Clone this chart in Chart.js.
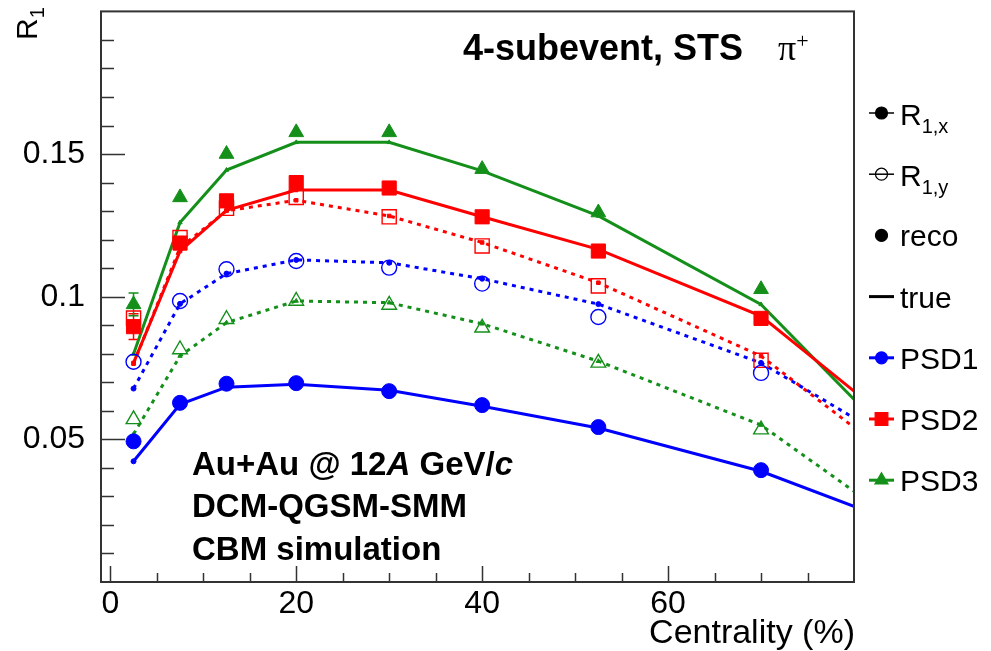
<!DOCTYPE html>
<html>
<head>
<meta charset="utf-8">
<script src="https://cdn.jsdelivr.net/npm/chart.js@4.4.1/dist/chart.umd.min.js"></script>
<style>
  html, body { margin: 0; padding: 0; background: #fff; }
  #wrap { width: 991px; height: 651px; }
</style>
</head>
<body>
<div id="wrap"><canvas id="c" width="991" height="651"></canvas></div>
<script>
// centrality bins (%)
const centrality = [2.5, 7.5, 12.5, 20, 30, 40, 52.5, 70];
const centralityTrue = [2.5, 7.5, 12.5, 20, 30, 40, 52.5, 70, 90];

// reconstructed R1 (markers)
const psd1RecoX = [0.0493, 0.0628, 0.0695, 0.0697, 0.0669, 0.0620, 0.0543, 0.0392];
const psd1RecoY = [0.0772, 0.0985, 0.1096, 0.1125, 0.1102, 0.1046, 0.0929, 0.0733];
const psd2RecoX = [0.0895, 0.1188, 0.1336, 0.1400, 0.1381, 0.1280, 0.1160, 0.0924];
const psd2RecoY = [0.0925, 0.1207, 0.1310, 0.1348, 0.1280, 0.1178, 0.1038, 0.0777];
const psd3RecoX = [0.0973, 0.1348, 0.1500, 0.1576, 0.1576, 0.1447, 0.1295, 0.1026];
const psd3RecoY = [0.0570, 0.0815, 0.0921, 0.0985, 0.0971, 0.0891, 0.0768, 0.0534];
// errors (only visible in the most central bin)
const psd2RecoXErr = [0.0045, 0, 0, 0, 0, 0, 0, 0];
const psd3RecoXErr = [0.0040, 0, 0, 0, 0, 0, 0, 0];

// true R1 (lines)
const psd1TrueX = [0.0423, 0.0623, 0.0683, 0.0693, 0.0672, 0.0616, 0.0540, 0.0388, 0.0142];
const psd1TrueY = [0.0678, 0.0975, 0.1081, 0.1129, 0.1119, 0.1063, 0.0974, 0.0768, 0.0382];
const psd2TrueX = [0.0768, 0.1160, 0.1303, 0.1374, 0.1374, 0.1280, 0.1166, 0.0932, 0.0406];
const psd2TrueY = [0.0765, 0.1172, 0.1301, 0.1338, 0.1283, 0.1190, 0.1049, 0.0792, 0.0292];
const psd3TrueX = [0.0799, 0.1260, 0.1444, 0.1541, 0.1541, 0.1441, 0.1283, 0.0973, 0.0307];
const psd3TrueY = [0.0518, 0.0792, 0.0909, 0.0985, 0.0979, 0.0905, 0.0774, 0.0550, 0.0086];

// axis labels
const xTickLabels = [0, 20, 40, 60];
const yTickLabels = [0.05, 0.1, 0.15];

const FONT = '"Liberation Sans", Arial, Helvetica, sans-serif';
const BLUE = '#0000ff', RED = '#ff0000', GREEN = '#14901a';

const pts = (xs, ys) => xs.map((x, i) => ({ x: x, y: ys[i] }));

const reco = (label, ys, color, style, r, filled) => ({
    label, data: pts(centrality, ys), showLine: false,
    pointStyle: style, pointRadius: r, pointHoverRadius: r,
    pointBackgroundColor: filled ? color : 'rgba(0,0,0,0)',
    pointBorderColor: color, pointBorderWidth: filled ? 1 : 1.4
});
const truth = (label, ys, color, style, dotted) => ({
    label, data: pts(centralityTrue, ys), showLine: true, tension: 0,
    borderColor: color, borderWidth: 3, borderDash: dotted ? [4, 5] : [],
    pointStyle: style, pointRadius: 2.5, pointHoverRadius: 2.5,
    pointBackgroundColor: color, pointBorderColor: color, pointBorderWidth: 1,
    clip: 0
});

// dataset 0 is drawn on top, so markers go first
const datasets = [
    reco('PSD1 R1x reco', psd1RecoX, BLUE, 'circle', 7.5, true),
    reco('PSD2 R1x reco', psd2RecoX, RED, 'rect', 10, true),
    reco('PSD3 R1x reco', psd3RecoX, GREEN, 'triangle', 8.5, true),
    reco('PSD1 R1y reco', psd1RecoY, BLUE, 'circle', 7.5, false),
    reco('PSD2 R1y reco', psd2RecoY, RED, 'rect', 10, false),
    reco('PSD3 R1y reco', psd3RecoY, GREEN, 'triangle', 8.5, false),
    truth('PSD1 R1x true', psd1TrueX, BLUE, 'circle', false),
    truth('PSD2 R1x true', psd2TrueX, RED, 'rect', false),
    truth('PSD3 R1x true', psd3TrueX, GREEN, 'triangle', false),
    truth('PSD1 R1y true', psd1TrueY, BLUE, 'circle', true),
    truth('PSD2 R1y true', psd2TrueY, RED, 'rect', true),
    truth('PSD3 R1y true', psd3TrueY, GREEN, 'triangle', true)
];

function runs(ctx, x, y, parts) {
    parts.forEach(p => {
        ctx.font = p.font;
        if (p.at) x = p.at;
        ctx.fillText(p.text, x, y + (p.dy || 0));
        x += ctx.measureText(p.text).width;
    });
}

const decor = {
    id: 'decor',
    beforeDatasetsDraw(chart) {
        // error bars
        const { ctx, scales: { x, y } } = chart;
        ctx.save();
        ctx.lineWidth = 1.5;
        [[psd2RecoX, psd2RecoXErr, RED], [psd3RecoX, psd3RecoXErr, GREEN]].forEach(([vals, errs, col]) => {
            ctx.strokeStyle = col;
            vals.forEach((v, i) => {
                if (!errs[i]) return;
                const px = x.getPixelForValue(centrality[i]);
                const y1 = y.getPixelForValue(v - errs[i]), y2 = y.getPixelForValue(v + errs[i]);
                ctx.beginPath();
                ctx.moveTo(px, y1); ctx.lineTo(px, y2);
                ctx.moveTo(px - 5, y1); ctx.lineTo(px + 5, y1);
                ctx.moveTo(px - 5, y2); ctx.lineTo(px + 5, y2);
                ctx.stroke();
            });
        });
        ctx.restore();
    },
    afterDraw(chart) {
        const { ctx, chartArea: a, scales: { x, y } } = chart;
        ctx.save();
        // frame
        ctx.strokeStyle = '#333';
        ctx.lineWidth = 2;
        ctx.strokeRect(a.left, a.top, a.right - a.left, a.bottom - a.top);
        // ticks pointing inward
        ctx.lineWidth = 1.5;
        ctx.beginPath();
        y.ticks.forEach(t => {
            const py = Math.round(y.getPixelForValue(t.value)) + 0.5;
            const major = Math.abs(t.value / 0.05 - Math.round(t.value / 0.05)) < 1e-6;
            ctx.moveTo(a.left, py); ctx.lineTo(a.left + (major ? 24 : 13), py);
        });
        x.ticks.forEach(t => {
            const px = Math.round(x.getPixelForValue(t.value)) + 0.5;
            const major = t.value % 20 === 0;
            ctx.moveTo(px, a.bottom); ctx.lineTo(px, a.bottom - (major ? 16 : 9));
        });
        ctx.stroke();

        ctx.fillStyle = '#000';
        ctx.textBaseline = 'alphabetic';
        // axis titles
        ctx.font = `34px ${FONT}`;
        ctx.textAlign = 'right';
        ctx.fillText('Centrality (%)', 855, 643);
        ctx.textAlign = 'left';
        ctx.save();
        ctx.translate(37, 40);
        ctx.rotate(-Math.PI / 2);
        runs(ctx, 0, 0, [{ text: 'R', font: `30px ${FONT}` }, { text: '1', font: `20px ${FONT}`, dy: 7 }]);
        ctx.restore();

        // title
        runs(ctx, 463, 60, [
            { text: '4-subevent, STS', font: `bold 36px ${FONT}` },
            { text: 'π', font: `36px "Liberation Serif", serif`, at: 778 },
            { text: '+', font: `22px "Liberation Serif", serif`, dy: -12 }
        ]);
        // annotation
        const b = `bold 33px ${FONT}`, bi = `italic bold 33px ${FONT}`;
        runs(ctx, 192, 475, [{ text: 'Au+Au @ 12', font: b }, { text: 'A', font: bi }, { text: ' GeV/', font: b }, { text: 'c', font: bi }]);
        runs(ctx, 192, 517, [{ text: 'DCM-QGSM-SMM', font: b }]);
        runs(ctx, 192, 560, [{ text: 'CBM simulation', font: b }]);

        // legend
        const L = [
            { sub: '1,x', color: '#000', line: true, style: 'circle', filled: true },
            { sub: '1,y', color: '#000', line: true, style: 'circle', filled: false },
            { text: 'reco', color: '#000', line: false, style: 'circle', filled: true },
            { text: 'true', color: '#000', line: true, style: null },
            { text: 'PSD1', color: BLUE, line: true, style: 'circle', filled: true },
            { text: 'PSD2', color: RED, line: true, style: 'rect', filled: true },
            { text: 'PSD3', color: GREEN, line: true, style: 'triangle', filled: true }
        ];
        L.forEach((e, i) => {
            const cy = 113 + i * 61.2;
            ctx.strokeStyle = e.color;
            ctx.fillStyle = e.color;
            if (e.line) {
                ctx.lineWidth = (i < 2) ? 1.5 : 3;
                ctx.beginPath(); ctx.moveTo(869, cy); ctx.lineTo(894, cy); ctx.stroke();
            }
            if (e.style) {
                const r = e.style === 'rect' ? 9 : (e.style === 'triangle' ? 7.5 : 6);
                ctx.fillStyle = e.filled ? e.color : 'rgba(0,0,0,0)';
                ctx.lineWidth = 1.2;
                Chart.helpers.drawPoint(ctx, { pointStyle: e.style, radius: r, rotation: 0, borderWidth: 1.2 }, 881.5, cy);
            }
            ctx.fillStyle = '#000';
            if (e.sub) {
                runs(ctx, 900, cy + 12, [{ text: 'R', font: `30px ${FONT}` }, { text: e.sub, font: `20px ${FONT}`, dy: 8 }]);
            } else {
                runs(ctx, 900, cy + 11, [{ text: e.text, font: `30px ${FONT}` }]);
            }
        });
        ctx.restore();
    }
};

new Chart(document.getElementById('c'), {
    type: 'scatter',
    data: { datasets },
    options: {
        responsive: false,
        animation: false,
        devicePixelRatio: 1,
        layout: { padding: { left: 0, top: 10, right: 137, bottom: 0 } },
        plugins: { legend: { display: false }, tooltip: { enabled: false } },
        scales: {
            x: {
                type: 'linear', min: -1, max: 80,
                grid: { display: false }, border: { display: false },
                afterBuildTicks: s => {
                    const t = [];
                    for (let v = 0; v <= 75; v += 5) t.push({ value: v });
                    s.ticks = t;
                },
                afterFit: s => { s.height = 69; s.paddingLeft = 0; s.paddingRight = 0; },
                ticks: {
                    autoSkip: false, maxRotation: 0, padding: -5, color: '#000',
                    font: { family: FONT, size: 32 },
                    callback: v => xTickLabels.includes(v) ? String(v) : ''
                }
            },
            y: {
                type: 'linear', min: 0, max: 0.2,
                grid: { display: false }, border: { display: false },
                afterBuildTicks: s => {
                    const t = [];
                    for (let k = 1; k <= 19; k++) t.push({ value: k / 100 });
                    s.ticks = t;
                },
                afterFit: s => { s.width = 101; s.paddingTop = 0; s.paddingBottom = 0; },
                ticks: {
                    autoSkip: false, padding: 8, color: '#000',
                    font: { family: FONT, size: 32 },
                    callback: v => yTickLabels.some(t => Math.abs(t - v) < 1e-9) ? String(+v.toFixed(2)) : ''
                }
            }
        }
    },
    plugins: [decor]
});
</script>
</body>
</html>
